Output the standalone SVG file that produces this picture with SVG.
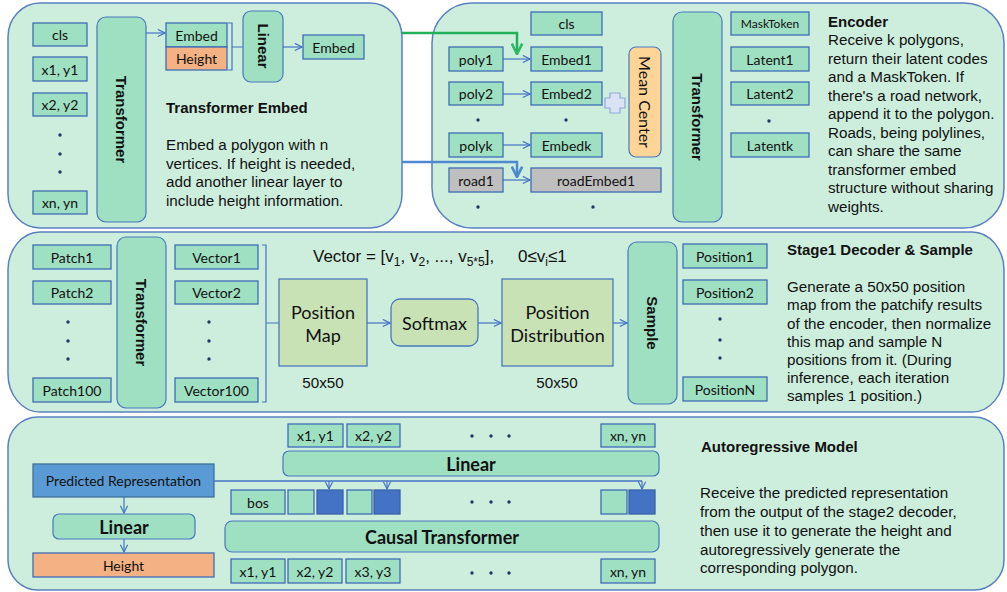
<svg xmlns="http://www.w3.org/2000/svg" width="1007" height="592" viewBox="0 0 1007 592">
  <defs>
    <style>
      .panel { fill: #CDEEDD; stroke: #5A80C0; stroke-width: 1.5; }
      .box { fill: #9FDFC2; stroke: #3E6DB5; stroke-width: 1.3; }
      .rbox { fill: #9FDFC2; stroke: #4A78BE; stroke-width: 1.2; }
      .green { fill: #C8E2B5; stroke: #4A78BE; stroke-width: 1.3; }
      .orange { fill: #F4B183; stroke: #3E6DB5; stroke-width: 1.3; }
      .grey { fill: #BFBFBF; stroke: #3E6DB5; stroke-width: 1.3; }
      .dark { fill: #4472C4; stroke: #3A62A8; stroke-width: 1.3; }
      .lbl { font-family: Lato, "Liberation Sans", sans-serif; font-size: 14px; fill: #111; text-anchor: middle; dominant-baseline: central; }
      .big { font-size: 18px; }
      .bb { font-weight: bold; font-size: 18px; }
      .vt { font-family: "Liberation Sans", Arial, sans-serif; font-weight: bold; font-size: 15px; fill: #111; text-anchor: middle; dominant-baseline: central; }
      .body { font-family: "Liberation Sans", Arial, sans-serif; font-size: 15.2px; fill: #111; }
      .ttl { font-weight: bold; font-size: 15px; }
      .conn { fill: none; stroke: #4472C4; stroke-width: 1.2; }
      .dot { fill: #1F3864; }
    </style>
    <marker id="arr" viewBox="0 0 10 10" refX="9" refY="5" markerWidth="9" markerHeight="9" markerUnits="userSpaceOnUse" orient="auto">
      <path d="M1,1 L9,5 L1,9" fill="none" stroke="#4472C4" stroke-width="1.3"/>
    </marker>
    <marker id="arrG" viewBox="0 0 10 10" refX="9" refY="5" markerWidth="13" markerHeight="13" markerUnits="userSpaceOnUse" orient="auto">
      <path d="M1,1 L9,5 L1,9" fill="none" stroke="#2FB865" stroke-width="2"/>
    </marker>
    <marker id="arrB" viewBox="0 0 10 10" refX="9" refY="5" markerWidth="13" markerHeight="13" markerUnits="userSpaceOnUse" orient="auto">
      <path d="M1,1 L9,5 L1,9" fill="none" stroke="#4E88D0" stroke-width="2"/>
    </marker>
  </defs>

  <!-- section backgrounds -->
  <g id="panels">
    <rect class="panel" x="8" y="3" width="394" height="225" rx="32" ry="34"/>
    <rect class="panel" x="432" y="3" width="572" height="225" rx="40" ry="40"/>
    <rect class="panel" x="8" y="232" width="996" height="180" rx="32" ry="38"/>
    <rect class="panel" x="8" y="417" width="996" height="173" rx="30" ry="30"/>
  </g>

  <!-- Transformer Embed -->
  <g id="te-cls"><rect class="box" x="33" y="23" width="54" height="23"/><text class="lbl" x="60" y="34.5">cls</text></g>
  <g id="te-x1"><rect class="box" x="33" y="57" width="54" height="24"/><text class="lbl" x="60" y="69">x1, y1</text></g>
  <g id="te-x2"><rect class="box" x="33" y="93" width="54" height="23"/><text class="lbl" x="60" y="104.5">x2, y2</text></g>
  <g id="te-xn"><rect class="box" x="33" y="191" width="54" height="23"/><text class="lbl" x="60" y="202.5">xn, yn</text></g>
  <g id="te-dots"><circle class="dot" cx="60" cy="135" r="1.7"/><circle class="dot" cx="60" cy="154" r="1.7"/><circle class="dot" cx="60" cy="172" r="1.7"/></g>
  <g id="te-transformer"><rect class="rbox" x="97" y="17" width="49" height="205" rx="9"/><text class="vt" transform="translate(121.5,119.5) rotate(90)">Transformer</text></g>
  <g id="te-embed"><rect class="box" x="166" y="23" width="61" height="24"/><text class="lbl" x="196.5" y="35">Embed</text></g>
  <g id="te-height"><rect class="orange" x="166" y="47" width="61" height="23"/><text class="lbl" x="196.5" y="58.5">Height</text></g>
  <g id="te-linear"><rect class="rbox" x="243" y="11" width="40" height="71" rx="8"/><text class="vt" transform="translate(263,46) rotate(90)">Linear</text></g>
  <g id="te-out"><rect class="box" x="303" y="35" width="61" height="24"/><text class="lbl" x="333.5" y="47">Embed</text></g>
  <g id="te-text">
    <text class="body ttl" x="166" y="113">Transformer Embed</text>
    <text class="body" x="166" y="150">Embed a polygon with n</text>
    <text class="body" x="166" y="168.5">vertices. If height is needed,</text>
    <text class="body" x="166" y="187">add another linear layer to</text>
    <text class="body" x="166" y="205.5">include height information.</text>
  </g>

  <!-- Encoder -->
  <g id="enc-cls"><rect class="box" x="531" y="12" width="71" height="23"/><text class="lbl" x="566.5" y="23.5">cls</text></g>
  <g id="enc-poly1"><rect class="box" x="449" y="47" width="54" height="24"/><text class="lbl" x="476" y="59">poly1</text></g>
  <g id="enc-poly2"><rect class="box" x="449" y="82" width="54" height="23"/><text class="lbl" x="476" y="93.5">poly2</text></g>
  <g id="enc-polyk"><rect class="box" x="449" y="133" width="54" height="24"/><text class="lbl" x="476" y="145">polyk</text></g>
  <g id="enc-road1"><rect class="grey" x="449" y="168" width="54" height="24"/><text class="lbl" x="476" y="180">road1</text></g>
  <g id="enc-embed1"><rect class="box" x="531" y="47" width="71" height="24"/><text class="lbl" x="566.5" y="59">Embed1</text></g>
  <g id="enc-embed2"><rect class="box" x="531" y="82" width="71" height="23"/><text class="lbl" x="566.5" y="93.5">Embed2</text></g>
  <g id="enc-embedk"><rect class="box" x="531" y="133" width="71" height="24"/><text class="lbl" x="566.5" y="145">Embedk</text></g>
  <g id="enc-roadembed"><rect class="grey" x="531" y="168" width="130" height="24"/><text class="lbl" x="596" y="180">roadEmbed1</text></g>
  <g id="enc-dots"><circle class="dot" cx="478" cy="120" r="1.7"/><circle class="dot" cx="566" cy="120" r="1.7"/><circle class="dot" cx="478" cy="207" r="1.7"/><circle class="dot" cx="593" cy="207" r="1.7"/><circle class="dot" cx="769" cy="121" r="1.7"/></g>
  <g id="enc-plus"><path d="M610,93 H620 V98 H625 V108 H620 V113 H610 V108 H605 V98 H610 Z" fill="#DAE3F3" stroke="#8FAADC" stroke-width="1.2"/></g>
  <g id="enc-mean"><rect x="629" y="47" width="32" height="110" rx="7" fill="#FFD597" stroke="#4A78BE" stroke-width="1.2"/><text class="lbl" style="font-size:16px" transform="translate(645,102) rotate(90)">Mean Center</text></g>
  <g id="enc-transformer"><rect class="rbox" x="673" y="12" width="49" height="210" rx="9"/><text class="vt" transform="translate(697.5,117) rotate(90)">Transformer</text></g>
  <g id="enc-mask"><rect class="box" x="731" y="12" width="78" height="23"/><text class="lbl" style="font-size:12px" x="770" y="23.5">MaskToken</text></g>
  <g id="enc-lat1"><rect class="box" x="731" y="47" width="78" height="24"/><text class="lbl" x="770" y="59">Latent1</text></g>
  <g id="enc-lat2"><rect class="box" x="731" y="82" width="78" height="23"/><text class="lbl" x="770" y="93.5">Latent2</text></g>
  <g id="enc-latk"><rect class="box" x="731" y="133" width="78" height="24"/><text class="lbl" x="770" y="145">Latentk</text></g>
  <g id="enc-text">
    <text class="body ttl" x="828" y="26.7">Encoder</text>
    <text class="body" x="828" y="45">Receive k polygons,</text>
    <text class="body" x="828" y="63.5">return their latent codes</text>
    <text class="body" x="828" y="82">and a MaskToken. If</text>
    <text class="body" x="828" y="100.5">there's a road network,</text>
    <text class="body" x="828" y="119">append it to the polygon.</text>
    <text class="body" x="828" y="137.5">Roads, being polylines,</text>
    <text class="body" x="828" y="156">can share the same</text>
    <text class="body" x="828" y="174.5">transformer embed</text>
    <text class="body" x="828" y="193">structure without sharing</text>
    <text class="body" x="828" y="211.5">weights.</text>
  </g>

  <!-- Stage1 Decoder & Sample -->
  <g id="s1-p1"><rect class="box" x="33" y="245" width="78" height="24"/><text class="lbl" x="72" y="257">Patch1</text></g>
  <g id="s1-p2"><rect class="box" x="33" y="281" width="78" height="23"/><text class="lbl" x="72" y="292.5">Patch2</text></g>
  <g id="s1-p100"><rect class="box" x="33" y="378" width="78" height="24"/><text class="lbl" x="72" y="390">Patch100</text></g>
  <g id="s1-transformer"><rect class="rbox" x="117" y="237" width="49" height="171" rx="9"/><text class="vt" transform="translate(141.5,322.5) rotate(90)">Transformer</text></g>
  <g id="s1-v1"><rect class="box" x="175" y="245" width="83" height="24"/><text class="lbl" x="216.5" y="257">Vector1</text></g>
  <g id="s1-v2"><rect class="box" x="175" y="281" width="83" height="23"/><text class="lbl" x="216.5" y="292.5">Vector2</text></g>
  <g id="s1-v100"><rect class="box" x="175" y="378" width="83" height="24"/><text class="lbl" x="216.5" y="390">Vector100</text></g>
  <g id="s1-dots">
    <circle class="dot" cx="68" cy="322" r="1.7"/><circle class="dot" cx="68" cy="341" r="1.7"/><circle class="dot" cx="68" cy="359" r="1.7"/>
    <circle class="dot" cx="209" cy="322" r="1.7"/><circle class="dot" cx="209" cy="341" r="1.7"/><circle class="dot" cx="209" cy="359" r="1.7"/>
    <circle class="dot" cx="720" cy="319" r="1.7"/><circle class="dot" cx="720" cy="340" r="1.7"/><circle class="dot" cx="720" cy="358" r="1.7"/>
  </g>
  <g id="s1-posmap"><rect class="green" x="279" y="279" width="88" height="87"/><text class="lbl big" x="323" y="312">Position</text><text class="lbl big" x="323" y="335">Map</text></g>
  <g id="s1-softmax"><rect class="green" x="391" y="299" width="87" height="47" rx="9"/><text class="lbl big" x="434.5" y="322.5">Softmax</text></g>
  <g id="s1-posdist"><rect class="green" x="502" y="279" width="111" height="87"/><text class="lbl big" x="557.5" y="312">Position</text><text class="lbl big" x="557.5" y="335">Distribution</text></g>
  <g id="s1-sample"><rect class="rbox" x="628" y="242" width="49" height="162" rx="9"/><text class="vt" transform="translate(652.5,323) rotate(90)">Sample</text></g>
  <g id="s1-pos1"><rect class="box" x="683" y="244" width="84" height="24"/><text class="lbl" x="725" y="256">Position1</text></g>
  <g id="s1-pos2"><rect class="box" x="683" y="280" width="84" height="24"/><text class="lbl" x="725" y="292">Position2</text></g>
  <g id="s1-posn"><rect class="box" x="683" y="377" width="84" height="24"/><text class="lbl" x="725" y="389">PositionN</text></g>
  <g id="s1-text">
    <text class="body" style="font-size:17px" x="313" y="262">Vector = [v<tspan dy="4" font-size="12">1</tspan><tspan dy="-4">, v</tspan><tspan dy="4" font-size="12">2</tspan><tspan dy="-4">, ..., v</tspan><tspan dy="4" font-size="12">5*5</tspan><tspan dy="-4">],</tspan><tspan x="518">0≤v</tspan><tspan dy="4" font-size="12">i</tspan><tspan dy="-4">≤1</tspan></text>
    <text class="body" x="323" y="388" text-anchor="middle">50x50</text>
    <text class="body" x="557" y="388" text-anchor="middle">50x50</text>
    <text class="body ttl" x="787" y="255">Stage1 Decoder &amp; Sample</text>
    <text class="body" x="787" y="292.3">Generate a 50x50 position</text>
    <text class="body" x="787" y="310.4">map from the patchify results</text>
    <text class="body" x="787" y="328.5">of the encoder, then normalize</text>
    <text class="body" x="787" y="346.6">this map and sample N</text>
    <text class="body" x="787" y="364.7">positions from it. (During</text>
    <text class="body" x="787" y="382.8">inference, each iteration</text>
    <text class="body" x="787" y="400.9">samples 1 position.)</text>
  </g>

  <!-- Autoregressive Model -->
  <g id="ar-top-x1"><rect class="box" x="288" y="424" width="55" height="23"/><text class="lbl" x="315.5" y="435.5">x1, y1</text></g>
  <g id="ar-top-x2"><rect class="box" x="347" y="424" width="53" height="23"/><text class="lbl" x="373.5" y="435.5">x2, y2</text></g>
  <g id="ar-top-xn"><rect class="box" x="601" y="424" width="54" height="23"/><text class="lbl" x="628" y="435.5">xn, yn</text></g>
  <g id="ar-linear-top"><rect class="rbox" x="283" y="451" width="376" height="25" rx="6"/><text class="lbl bb" x="471" y="463.5">Linear</text></g>
  <g id="ar-pred"><rect x="33" y="464" width="181" height="33" fill="#5B9BD5" stroke="#41719C" stroke-width="1.3"/><text class="lbl" x="123.5" y="480.5">Predicted Representation</text></g>
  <g id="ar-bos"><rect class="box" x="231" y="490" width="54" height="24"/><text class="lbl" x="258" y="502">bos</text></g>
  <g id="ar-tokens">
    <rect class="box" x="288" y="490" width="26" height="24"/><rect class="dark" x="317" y="490" width="26" height="24"/>
    <rect class="box" x="347" y="490" width="25" height="24"/><rect class="dark" x="374" y="490" width="26" height="24"/>
    <rect class="box" x="601" y="490" width="26" height="24"/><rect class="dark" x="629" y="490" width="26" height="24"/>
  </g>
  <g id="ar-causal"><rect class="rbox" x="225" y="521" width="434" height="31" rx="7"/><text class="lbl bb" x="442" y="537">Causal Transformer</text></g>
  <g id="ar-linear-left"><rect class="rbox" x="53" y="514" width="142" height="25" rx="6"/><text class="lbl bb" x="124" y="526.5">Linear</text></g>
  <g id="ar-height"><rect class="orange" x="33" y="553" width="181" height="24"/><text class="lbl" x="123.5" y="565">Height</text></g>
  <g id="ar-bot-x1"><rect class="box" x="231" y="559" width="54" height="24"/><text class="lbl" x="258" y="571">x1, y1</text></g>
  <g id="ar-bot-x2"><rect class="box" x="288" y="559" width="54" height="24"/><text class="lbl" x="315" y="571">x2, y2</text></g>
  <g id="ar-bot-x3"><rect class="box" x="346" y="559" width="54" height="24"/><text class="lbl" x="373" y="571">x3, y3</text></g>
  <g id="ar-bot-xn"><rect class="box" x="601" y="559" width="54" height="24"/><text class="lbl" x="628" y="571">xn, yn</text></g>
  <g id="ar-dots">
    <circle class="dot" cx="472" cy="436" r="1.7"/><circle class="dot" cx="491" cy="436" r="1.7"/><circle class="dot" cx="509" cy="436" r="1.7"/>
    <circle class="dot" cx="472" cy="502" r="1.7"/><circle class="dot" cx="491" cy="502" r="1.7"/><circle class="dot" cx="509" cy="502" r="1.7"/>
    <circle class="dot" cx="472" cy="573" r="1.7"/><circle class="dot" cx="491" cy="573" r="1.7"/><circle class="dot" cx="509" cy="573" r="1.7"/>
  </g>
  <g id="ar-text">
    <text class="body ttl" x="701" y="452.3">Autoregressive Model</text>
    <text class="body" x="700" y="498.3">Receive the predicted representation</text>
    <text class="body" x="700" y="517">from the output of the stage2 decoder,</text>
    <text class="body" x="700" y="535.8">then use it to generate the height and</text>
    <text class="body" x="700" y="554.5">autoregressively generate the</text>
    <text class="body" x="700" y="573.3">corresponding polygon.</text>
  </g>

  <!-- connectors -->
  <g id="connectors">
    <path class="conn" d="M146,33 H165" marker-end="url(#arr)"/>
    <path class="conn" d="M228,23 H232 V70 H228 M232,47 H243"/>
    <path class="conn" d="M283,47 H302" marker-end="url(#arr)"/>

    <path d="M402,33 H517 V54" fill="none" stroke="#22B15A" stroke-width="2.5" marker-end="url(#arrG)"/>
    <path d="M402,162 H517 V177" fill="none" stroke="#4E88D0" stroke-width="2.5" marker-end="url(#arrB)"/>
    <path class="conn" d="M503,59 H530" marker-end="url(#arr)"/>
    <path class="conn" d="M503,94 H530" marker-end="url(#arr)"/>
    <path class="conn" d="M503,145 H530" marker-end="url(#arr)"/>
    <path class="conn" d="M503,180 H530" marker-end="url(#arr)"/>

    <path class="conn" d="M262,245 H266 V402 H262 M266,323 H279"/>
    <path class="conn" d="M367,323 H390" marker-end="url(#arr)"/>
    <path class="conn" d="M478,323 H501" marker-end="url(#arr)"/>
    <path class="conn" d="M613,323 H627" marker-end="url(#arr)"/>

    <path class="conn" style="stroke-width:1.6" d="M214,481 H642"/>
    <path class="conn" d="M329,481 V489" marker-end="url(#arr)"/>
    <path class="conn" d="M387,481 V489" marker-end="url(#arr)"/>
    <path class="conn" d="M642,481 V489" marker-end="url(#arr)"/>
    <path class="conn" d="M124,497 V513" marker-end="url(#arr)"/>
    <path class="conn" d="M124,539 V552" marker-end="url(#arr)"/>
  </g>
</svg>
